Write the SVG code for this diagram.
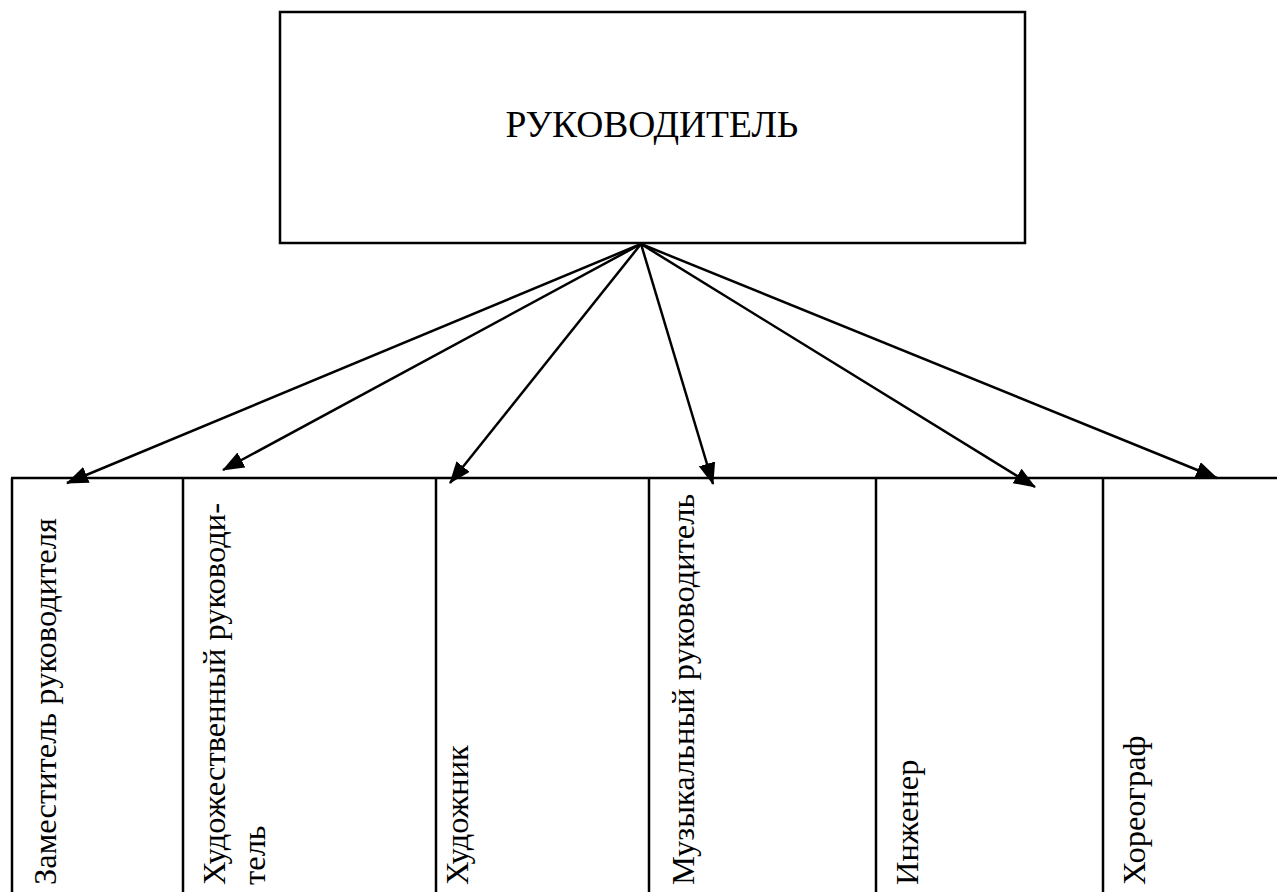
<svg xmlns="http://www.w3.org/2000/svg" width="1277" height="892" viewBox="0 0 1277 892">
<style>
.box{fill:#fff;stroke:#000;stroke-width:2.5}
.ln{stroke:#000;stroke-width:2.5;fill:none}
.arr{stroke:#000;stroke-width:2.5;fill:none;marker-end:url(#ah)}
.v{font-size:32.5px}
</style>
<defs>
<marker id="ah" markerUnits="userSpaceOnUse" markerWidth="22" markerHeight="18" refX="21" refY="8.5" orient="auto">
<path d="M0,0 L22,8.5 L0,17 z" fill="#000"/>
</marker>
</defs>
<rect width="1277" height="892" fill="#fff"/>
<g font-family="'Liberation Serif', 'Times New Roman', serif" fill="#000">
<g id="root">
<rect class="box" x="280" y="12" width="745" height="231"/>
<text x="652" y="137" font-size="37.5" text-anchor="middle">РУКОВОДИТЕЛЬ</text>
</g>
<g id="table-frame">
<line class="ln" x1="11" y1="478" x2="1277" y2="478"/>
</g>
<g id="n1">
<line class="ln" x1="12" y1="478" x2="12" y2="892"/>
<text class="v" transform="translate(56,885) rotate(-90)">Заместитель руководителя</text>
</g>
<g id="n2">
<line class="ln" x1="183" y1="478" x2="183" y2="892"/>
<text class="v" transform="translate(225,885) rotate(-90)">Художественный руководи-</text>
<text class="v" transform="translate(265,885) rotate(-90)">тель</text>
</g>
<g id="n3">
<line class="ln" x1="436" y1="478" x2="436" y2="892"/>
<text class="v" transform="translate(468,885) rotate(-90)">Художник</text>
</g>
<g id="n4">
<line class="ln" x1="649" y1="478" x2="649" y2="892"/>
<text class="v" transform="translate(694,885) rotate(-90)">Музыкальный руководитель</text>
</g>
<g id="n5">
<line class="ln" x1="876" y1="478" x2="876" y2="892"/>
<text class="v" transform="translate(918,885) rotate(-90)">Инженер</text>
</g>
<g id="n6">
<line class="ln" x1="1103" y1="478" x2="1103" y2="892"/>
<text class="v" transform="translate(1145,885) rotate(-90)">Хореограф</text>
</g>
</g>
<g id="connectors">
<line class="arr" x1="641" y1="244" x2="67" y2="483"/>
<line class="arr" x1="641" y1="244" x2="223" y2="470"/>
<line class="arr" x1="641" y1="244" x2="450" y2="483"/>
<line class="arr" x1="641" y1="244" x2="713" y2="484"/>
<line class="arr" x1="641" y1="244" x2="1035" y2="487"/>
<line class="arr" x1="641" y1="244" x2="1217" y2="478"/>
</g>
</svg>
